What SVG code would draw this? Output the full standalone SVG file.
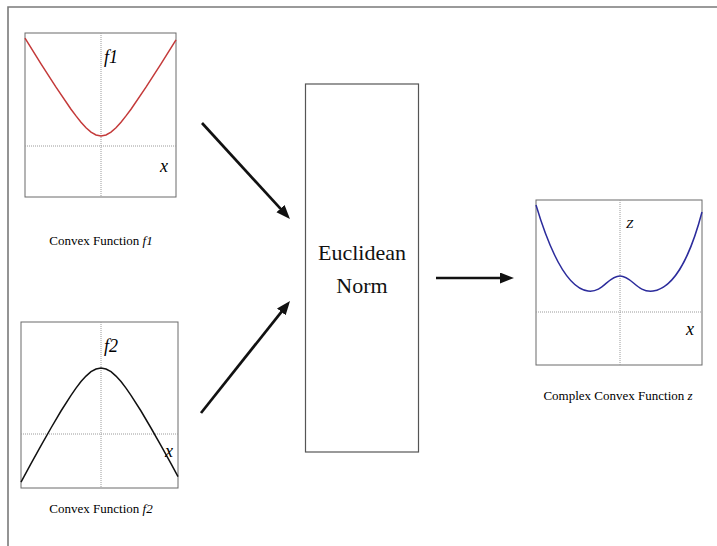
<svg xmlns="http://www.w3.org/2000/svg" width="717" height="546" viewBox="0 0 717 546">
<style>
.frame{stroke:#7a7a7a;stroke-width:1.6;fill:none}
.box{fill:#fff;stroke:#6a6a6a;stroke-width:1}
.axis{stroke:#9a9a9a;stroke-width:1;stroke-dasharray:1,1;fill:none}
.lbl{font-family:"Liberation Serif",serif;font-style:italic;fill:#000}
.cap{font-family:"Liberation Serif",serif;font-size:13px;fill:#000;text-anchor:middle}
.big{font-family:"Liberation Serif",serif;font-size:22px;fill:#111;text-anchor:middle}
.conn{stroke:#111;stroke-width:2.7;fill:none;marker-end:url(#ah)}
</style>
<defs>
<marker id="ah" markerUnits="userSpaceOnUse" markerWidth="15" markerHeight="12" refX="4" refY="5.5" orient="auto">
<path d="M0,0 L14,5.5 L0,11 z" fill="#111"/>
</marker>
</defs>
<rect width="717" height="546" fill="#fff"/>
<g id="frame">
<path class="frame" d="M8,546 L8,7 L717,7"/>
</g>
<g id="plot-f1">
<rect class="box" x="25" y="33" width="151" height="164"/>
<line class="axis" x1="101" y1="33" x2="101" y2="197"/>
<line class="axis" x1="25" y1="146" x2="176" y2="146"/>
<polyline fill="none" stroke="#c43a3a" stroke-width="1.5" points="25,38.2 41,63.8 56,87.2 71,109.2 76,115.9 81,122.2 86,127.7 91,132.1 96,135 101,136 106,135 111,132.1 116,127.7 121,122.2 126,115.9 131,109.2 146,87.2 161,63.8 176,39.8"/>
<text class="lbl" x="104" y="63" font-size="18">f1</text>
<text class="lbl" x="160" y="172" font-size="18">x</text>
<text class="cap" x="101" y="245">Convex Function <tspan font-style="italic">f1</tspan></text>
</g>
<g id="plot-f2">
<rect class="box" x="21" y="322" width="157" height="166"/>
<line class="axis" x1="101" y1="322" x2="101" y2="488"/>
<line class="axis" x1="21" y1="434" x2="178" y2="434"/>
<polyline fill="none" stroke="#111" stroke-width="1.5" points="21,482.1 31,463.7 41,445.6 51,428 61,411 71,395.3 76,388.1 81,381.6 86,376.1 91,371.7 96,369 101,368 106,369 111,371.7 116,376.1 121,381.6 126,388.1 131,395.3 141,411 151,428 161,445.6 171,463.7 178,476.6"/>
<text class="lbl" x="104" y="352" font-size="18">f2</text>
<text class="lbl" x="165" y="457" font-size="18">x</text>
<text class="cap" x="101" y="513">Convex Function <tspan font-style="italic">f2</tspan></text>
</g>
<g id="norm">
<rect x="305.5" y="84" width="113" height="368" fill="#fff" stroke="#555" stroke-width="1.2"/>
<text class="big" x="362" y="260">Euclidean</text>
<text class="big" x="362" y="293">Norm</text>
</g>
<g id="plot-z">
<rect class="box" x="536" y="200" width="166" height="165"/>
<line class="axis" x1="620" y1="200" x2="620" y2="365"/>
<line class="axis" x1="536" y1="312" x2="702" y2="312"/>
<path fill="none" stroke="#2c2c9c" stroke-width="1.5" d="M536,205 C548,245 565,288 588,291 C603,293 608,276 620,276 C632,276 637,293 653,291 C676,288 692,250 702,212"/>
<text class="lbl" x="626" y="228" font-size="13">Z</text>
<text class="lbl" x="686" y="335" font-size="18">x</text>
<text class="cap" x="618" y="400">Complex Convex Function <tspan font-style="italic">z</tspan></text>
</g>
<g id="connectors">
<line class="conn" x1="202" y1="123" x2="283.2" y2="211.6"/>
<line class="conn" x1="201" y1="413" x2="283.8" y2="308.8"/>
<line class="conn" x1="436" y1="278" x2="504" y2="278"/>
</g>
</svg>
